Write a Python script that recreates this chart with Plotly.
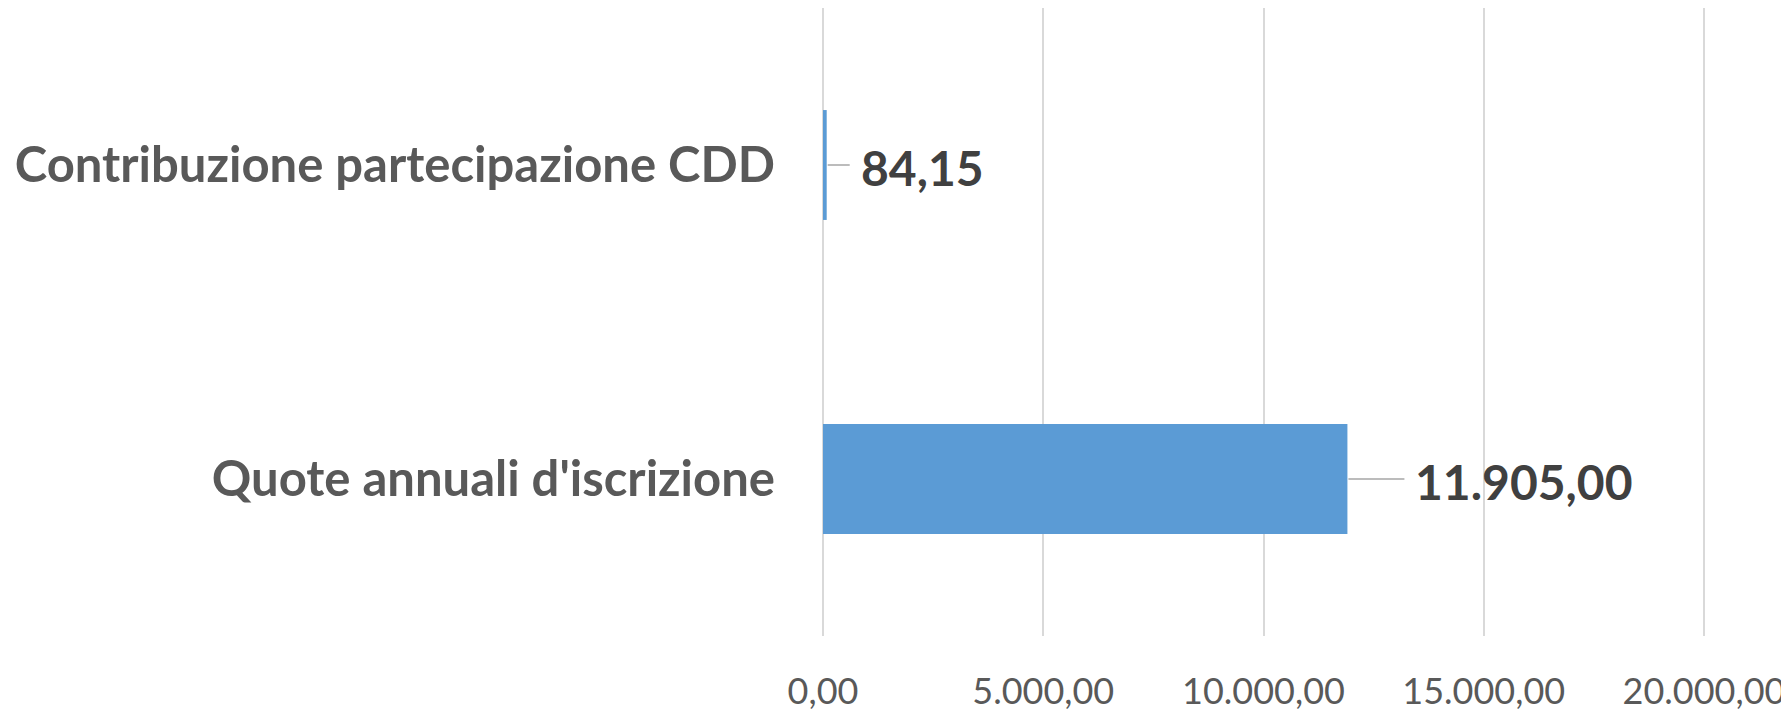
import plotly.graph_objects as go

categories = ["Quote annuali d'iscrizione", "Contribuzione partecipazione CDD"]
values = [11905.00, 84.15]
tick_values = [0, 5000, 10000, 15000, 20000]

def it_fmt(v):
    s = f"{v:,.2f}"
    return s.replace(",", "X").replace(".", ",").replace("X", ".")

label_texts = [it_fmt(v) for v in values]
label_offsets = [66, 32]  # pixel gap from bar end to label start

fig = go.Figure()
fig.add_trace(go.Bar(
    y=categories, x=values, orientation="h",
    marker=dict(color="#5B9BD5", line=dict(width=0)),
    width=0.35, hoverinfo="skip",
))

for cat, v, txt, off in zip(categories, values, label_texts, label_offsets):
    fig.add_annotation(
        x=v, y=cat, text=f"<b>{txt}</b>", showarrow=False,
        xanchor="left", yanchor="middle", xshift=off, yshift=-2,
        font=dict(family="Lato", size=48, color="#404040"),
    )
    fig.add_shape(
        type="line", xref="x", yref="y", xsizemode="pixel",
        xanchor=v, x0=1, x1=off - 9, y0=cat, y1=cat,
        line=dict(color="#A6A6A6", width=1.5),
    )

# page body has an 8px margin, so the figure is sized to fit the window
fig.update_layout(
    width=1781, height=703,
    margin=dict(l=812, r=82, t=0, b=75, autoexpand=False),
    paper_bgcolor="white", plot_bgcolor="white",
    separators=",.",
    showlegend=False,
    bargap=0.65,
    xaxis=dict(
        range=[-68, 20068], tickvals=tick_values, tickformat=",.2f",
        showgrid=True, gridcolor="#D9D9D9", gridwidth=2,
        zeroline=False, showline=False, ticks="", automargin=False,
        tickfont=dict(family="Lato", size=36, color="#595959"),
        ticklabelstandoff=31, ticklabeloverflow="allow",
    ),
    yaxis=dict(
        categoryorder="array", categoryarray=categories,
        showgrid=False, zeroline=False, showline=False, ticks="",
        automargin=False,
        tickfont=dict(family="Lato", size=49, color="#595959", weight="bold"),
        ticklabelstandoff=44,
    ),
)

fig.write_html("out.html")
